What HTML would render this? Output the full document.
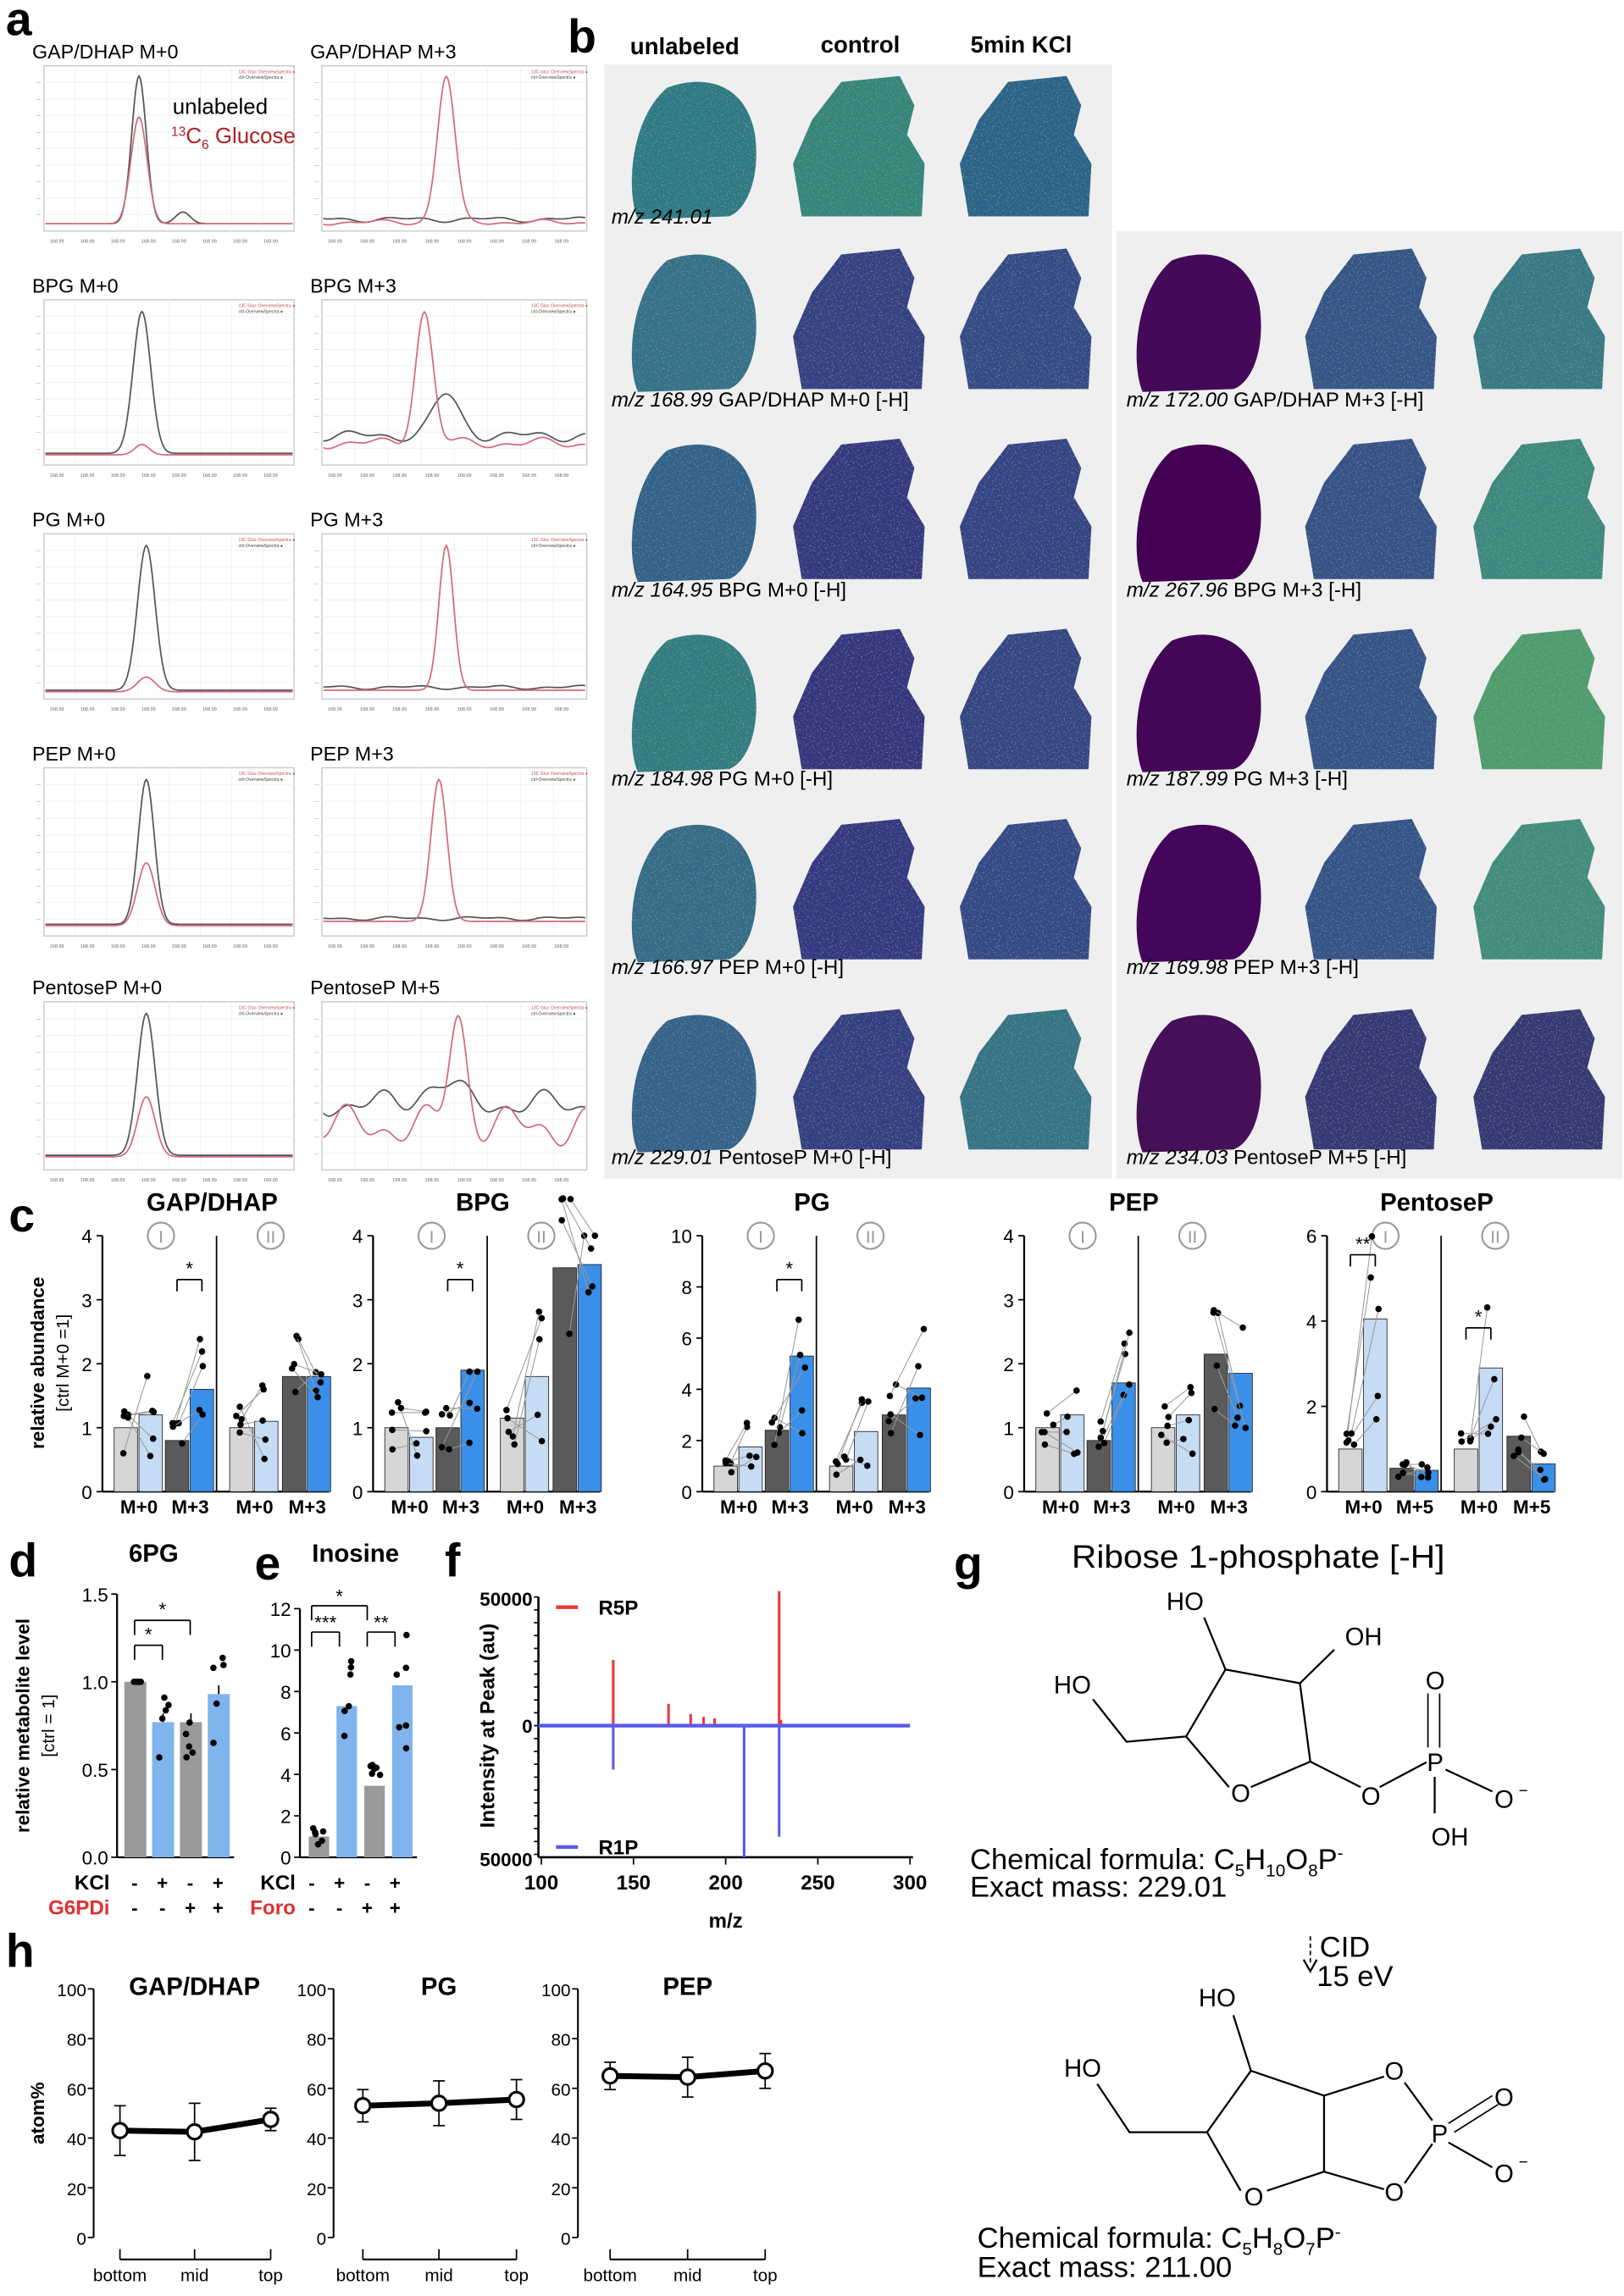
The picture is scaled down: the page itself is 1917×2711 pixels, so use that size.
<!DOCTYPE html>
<html><head><meta charset="utf-8"><style>
html,body{margin:0;padding:0;background:#fff}
svg{display:block}
text{font-family:"Liberation Sans",sans-serif}
</style></head><body>
<svg id="s" xmlns="http://www.w3.org/2000/svg" width="1917" height="2711" viewBox="0 0 1110 1570" preserveAspectRatio="none">
<rect width="1110" height="1570" fill="#fff"/>
</svg>
<script>
const NS="http://www.w3.org/2000/svg",S=document.getElementById('s');
function E(t,a,txt){const e=document.createElementNS(NS,t);for(const k in a)e.setAttribute(k,a[k]);if(txt!=null)e.textContent=txt;S.appendChild(e);return e;}
function T(x,y,s,sz,o){o=o||{};const a={x:x,y:y,'font-size':sz,fill:o.fill||'#000'};if(o.b)a['font-weight']='bold';if(o.a)a['text-anchor']=o.a;if(o.i)a['font-style']='italic';if(o.tl){a.textLength=o.tl;a.lengthAdjust='spacingAndGlyphs';}if(o.tr)a.transform=o.tr;return E('text',a,s);}
function L(x1,y1,x2,y2,c,w,extra){const a={x1:x1,y1:y1,x2:x2,y2:y2,stroke:c||'#000','stroke-width':w||1};if(extra)Object.assign(a,extra);return E('line',a);}
let seed=7;function rnd(){seed=(seed*16807)%2147483647;return seed/2147483647;}

[['a',4,24],['b',388,36],['c',6,842],['d',6,1078],['e',174,1080],['f',304,1078],['g',652,1080],['h',4,1345]].forEach(p=>T(p[1],p[2],p[0],32,{b:1}));

// ---- panel a spectra
const RED='#d46a78';
const rows=[[45,158],[205,318],[365,478],[525,640],[685,800]];
const titles=[['GAP/DHAP M+0','GAP/DHAP M+3'],['BPG M+0','BPG M+3'],['PG M+0','PG M+3'],['PEP M+0','PEP M+3'],['PentoseP M+0','PentoseP M+5']];
const specs=[
 [[{c:'#555',b:153,p:[[95,52,5],[125,145,5]]},{c:RED,b:153,p:[[95,80,5.5]]}],[{c:'#555',b:150,w:2,p:[]},{c:RED,b:152,w:2,p:[[305,52,6]]}]],
 [[{c:'#555',b:310,p:[[97,213,6]]},{c:RED,b:311,p:[[97,304,5]]}],[{c:'#555',b:298,w:4,p:[[305,270,9]]},{c:RED,b:303,w:4,p:[[290,213,6]]}]],
 [[{c:'#555',b:472,p:[[100,373,6]]},{c:RED,b:473,p:[[100,463,6]]}],[{c:'#555',b:470,w:1.5,p:[]},{c:RED,b:472,p:[[305,373,5]]}]],
 [[{c:'#555',b:632,p:[[100,533,5.5]]},{c:RED,b:633,p:[[100,590,6]]}],[{c:'#555',b:628,w:1.5,p:[]},{c:RED,b:630,p:[[300,533,5.5]]}]],
 [[{c:'#555',b:790,p:[[100,693,6]]},{c:RED,b:791,p:[[100,750,6]]}],[{c:'#555',b:755,w:10,p:[[300,740,12]]},{c:RED,b:770,w:15,p:[[313,693,6]]}]]
];
rows.forEach((r,i)=>{
 [[18,203],[208,403]].forEach((xx,j)=>{
  const [x0,x1]=xx,[y0,y1]=r;
  T(x0+4,y0-5,titles[i][j],13.5,{});
  E('rect',{x:x0+12,y:y0,width:x1-x0-14,height:y1-y0,fill:'#fff',stroke:'#c8c8c8','stroke-width':0.8});
  for(let g=1;g<8;g++){const gx=x0+12+g*(x1-x0-14)/8;L(gx,y0,gx,y1,'#eef2f8',0.6);}
  for(let g=1;g<10;g++){const gy=y0+g*(y1-y0)/10;L(x0+12,gy,x1-2,gy,'#eef2f8',0.6);T(x0+10,gy+1,'—',3,{a:'end',fill:'#888'});}
  for(let g=0;g<8;g++)T(x0+16+g*(x1-x0-18)/8,y1+8,'168.99',3.2,{fill:'#666'});
  T(x1-40,y0+5,'13C Gluc OverviewSpectra ●',3,{fill:'#c0505a'});
  T(x1-40,y0+9,'ctrl-OverviewSpectra ●',3,{fill:'#444'});
  specs[i][j].forEach(cv=>{
   let d='';for(let x=x0+13;x<=x1-3;x++){let y=cv.b+(cv.w||0)*Math.sin(x/9+cv.b)*0.6+(cv.w||0)*0.4*Math.sin(x/4.3);
    cv.p.forEach(p=>{y-=(cv.b-p[1])*Math.exp(-((x-p[0])**2)/(2*p[2]*p[2]));});
    d+=(d?'L':'M')+x+','+y.toFixed(1);}
   E('path',{d:d,fill:'none',stroke:cv.c,'stroke-width':1});
  });
 });
});
T(118,78,'unlabeled',15,{});
(function(){const t=E('text',{x:117,y:98,'font-size':15,fill:'#b02020'});
 t.innerHTML='<tspan font-size="9" dy="-5">13</tspan><tspan dy="5">C</tspan><tspan font-size="9" dy="4">6</tspan><tspan dy="-4"> Glucose</tspan>';})();

// ---- panel b
E('rect',{x:413,y:44,width:347,height:762,fill:'#efefef'});
E('rect',{x:763,y:158,width:346,height:648,fill:'#efefef'});
T(468,37,'unlabeled',16,{b:1,a:'middle'});T(588,36,'control',16,{b:1,a:'middle'});T(698,36,'5min KCl',16,{b:1,a:'middle'});
E('defs',{}).innerHTML='<filter id="nz" x="0" y="0" width="1" height="1"><feTurbulence type="fractalNoise" baseFrequency="0.9" numOctaves="1" seed="3" result="n"/><feColorMatrix in="n" type="matrix" values="0 0 0 0 0.55  0 0 0 0 0.8  0 0 0 0 0.35  0 0 0 0.9 -0.5" result="m"/><feComposite in="m" in2="SourceGraphic" operator="in" result="c"/><feMerge><feMergeNode in="SourceGraphic"/><feMergeNode in="c"/></feMerge></filter>';
const shapeU='M28,8 C55,-2 82,6 88,40 C92,70 82,92 70,96 L8,98 C0,80 2,30 28,8 Z';
const shapeC='M35,4 L75,0 L85,20 L80,40 L92,60 L90,96 L8,96 L2,60 L15,30 Z';
const rowY=[52,170,300,430,560,690],labY=[153,278,408,537,666,796];
const rowCols=[
 ['#2e7a86','#35857c','#2b6488'],
 ['#36718a','#353f83','#354c87','#45095a','#345488','#377986'],
 ['#33628a','#343880','#344285','#440154','#355187','#3c8880'],
 ['#337b82','#343580','#344585','#440656','#345388','#4f9c70'],
 ['#356b88','#343982','#354a88','#44065a','#345388','#428c7e'],
 ['#36628a','#343c82','#367387','#461058','#353876','#353975']];
const labs=[['m/z 241.01',''],['m/z 168.99',' GAP/DHAP M+0 [-H]','m/z 172.00',' GAP/DHAP M+3 [-H]'],['m/z 164.95',' BPG M+0 [-H]','m/z 267.96',' BPG M+3 [-H]'],['m/z 184.98',' PG M+0 [-H]','m/z 187.99',' PG M+3 [-H]'],['m/z 166.97',' PEP M+0 [-H]','m/z 169.98',' PEP M+3 [-H]'],['m/z 229.01',' PentoseP M+0 [-H]','m/z 234.03',' PentoseP M+5 [-H]']];
rowY.forEach((y,r)=>{
 const xs=r==0?[428,540,654]:[428,540,654,773,890,1005];
 xs.forEach((x,c)=>{
  E('path',{d:(c%3==0?shapeU:shapeC),fill:rowCols[r][c],transform:'translate('+x+','+y+')',filter:(c==3)?'':'url(#nz)'});
 });
 const t=E('text',{x:418,y:labY[r],'font-size':14});t.innerHTML='<tspan font-style="italic">'+labs[r][0]+'</tspan>'+labs[r][1];
 if(r>0){const t2=E('text',{x:770,y:labY[r],'font-size':14});t2.innerHTML='<tspan font-style="italic">'+labs[r][2]+'</tspan>'+labs[r][3];}
});

// ---- panel c
const barCols=['#d6d6d6','#c6dcf5','#5a5a5a','#3a8fe8'];
const offs=[8,25,43,60,87,104,123,140];
function barchart(ax,ymax,ticks,title,vals,stars){
 const y0=1020,yt=845,sc=175/ymax;
 T(ax+75,828,title,17,{b:1,a:'middle'});
 L(ax,yt,ax,y0,'#000',1.3);L(ax,y0,ax+155,y0,'#000',1.3);
 ticks.forEach(t=>{const y=y0-t*sc;L(ax-4,y,ax,y,'#000',1);T(ax-7,y+5,String(t),13,{a:'end'});});
 L(ax+78,yt,ax+78,y0,'#000',1);
 E('circle',{cx:ax+40,cy:yt,r:9,fill:'none',stroke:'#999','stroke-width':1.2});T(ax+40,yt+5,'I',12,{a:'middle',fill:'#999'});
 E('circle',{cx:ax+115,cy:yt,r:9,fill:'none',stroke:'#999','stroke-width':1.2});T(ax+115,yt+5,'II',12,{a:'middle',fill:'#999'});
 vals.forEach((v,i)=>{E('rect',{x:ax+offs[i],y:y0-v*sc,width:16,height:v*sc,fill:barCols[i%4],stroke:'#222','stroke-width':0.5});});
 for(let g=0;g<4;g++){const a=vals[2*g],b=vals[2*g+1];
  for(let k=0;k<5;k++){const va=Math.max(0.05,a*(0.6+rnd()*0.8)),vb=Math.max(0.05,b*(0.4+rnd()*1.2));
   const xa=ax+offs[2*g]+8+(rnd()-0.5)*8,xb=ax+offs[2*g+1]+8+(rnd()-0.5)*8;
   L(xa,y0-va*sc,xb,y0-Math.min(vb,ymax)*sc,'#999',0.6);
   E('circle',{cx:xa,cy:y0-va*sc,r:2.2,fill:'#000'});E('circle',{cx:xb,cy:y0-Math.min(vb,ymax)*sc,r:2.2,fill:'#000'});}}
 ['M+0','M+3','M+0','M+3'].forEach((m,i)=>T(ax+[25,60,104,140][i],1035,stars&&stars.lab?stars.lab[i]:m,13,{a:'middle',b:1}));
 (stars&&stars.s||[]).forEach(s=>{const x1=ax+offs[s[0]]+8,x2=ax+offs[s[1]]+8,y=s[2];L(x1,y,x2,y,'#000',1);L(x1,y,x1,y+8,'#000',1);L(x2,y,x2,y+8,'#000',1);T((x1+x2)/2,y-3,s[3],13,{a:'middle'});});
}
barchart(70,4,[0,1,2,3,4],'GAP/DHAP',[1,1.2,0.8,1.6,1,1.1,1.8,1.8],{s:[[2,3,875,'*']]});
barchart(255,4,[0,1,2,3,4],'BPG',[1,0.85,1,1.9,1.15,1.8,3.5,3.55],{s:[[2,3,875,'*']]});
barchart(480,10,[0,2,4,6,8,10],'PG',[1,1.75,2.4,5.3,1,2.35,3,4.05],{s:[[2,3,875,'*']]});
barchart(700,4,[0,1,2,3,4],'PEP',[1,1.2,0.8,1.7,1,1.2,2.15,1.85],{});
barchart(907,6,[0,2,4,6],'PentoseP',[1,4.05,0.55,0.5,1,2.9,1.3,0.65],{s:[[0,1,858,'**'],[4,5,908,'*']],lab:['M+0','M+5','M+0','M+5']});
T(30,932,'relative abundance',13,{b:1,a:'middle',tr:'rotate(-90 30 932)'});
T(47,932,'[ctrl M+0  =1]',12,{a:'middle',tr:'rotate(-90 47 932)'});

// ---- panel d
T(105,1068,'6PG',17,{b:1,a:'middle'});
(function(){const ax=80,y0=1270,sc=180/1.5;L(ax,1090,ax,y0,'#000',1.3);L(ax,y0,ax+80,y0,'#000',1.3);
 [0,0.5,1,1.5].forEach(t=>{const y=y0-t*sc;L(ax-4,y,ax,y);T(ax-6,y+5,t.toFixed(1),13,{a:'end'});});
 [[1,'#9a9a9a'],[0.77,'#80b4ec'],[0.77,'#9a9a9a'],[0.93,'#80b4ec']].forEach((b,i)=>{const x=ax+5+i*19;E('rect',{x:x,y:y0-b[0]*sc,width:15,height:b[0]*sc,fill:b[1]});
  L(x+7.5,y0-b[0]*sc,x+7.5,y0-(b[0]+0.05*(i?1:0))*sc);for(let k=0;k<5;k++)E('circle',{cx:x+7.5+(rnd()-0.5)*8,cy:y0-(i?b[0]*(0.7+rnd()*0.6):1)*sc,r:2.2,fill:'#000'});});
 const br=(x1,x2,y,s)=>{L(x1,y,x2,y);L(x1,y,x1,y+10);L(x2,y,x2,y+10);T((x1+x2)/2,y-3,s,13,{a:'middle'});};
 br(92,111,1125,'*');br(92,130,1108,'*');
 T(75,1292,'KCl',14,{b:1,a:'end'});T(75,1309,'G6PDi',14,{b:1,a:'end',fill:'#e03030'});
 ['-','+','-','+'].forEach((s,i)=>T(92+i*19,1292,s,13,{a:'middle',b:1}));['-','-','+','+'].forEach((s,i)=>T(92+i*19,1309,s,13,{a:'middle',b:1}));
 T(20,1180,'relative metabolite level',13,{b:1,a:'middle',tr:'rotate(-90 20 1180)'});
 T(37,1180,'[ctrl = 1]',12,{a:'middle',tr:'rotate(-90 37 1180)'});})();

// ---- panel e
T(243,1068,'Inosine',17,{b:1,a:'middle'});
(function(){const ax=205,y0=1270,sc=170/12;L(ax,1100,ax,y0,'#000',1.3);L(ax,y0,ax+80,y0,'#000',1.3);
 [0,2,4,6,8,10,12].forEach(t=>{const y=y0-t*sc;L(ax-4,y,ax,y);T(ax-6,y+5,String(t),13,{a:'end'});});
 [[1,'#9a9a9a'],[7.3,'#80b4ec'],[3.45,'#9a9a9a'],[8.3,'#80b4ec']].forEach((b,i)=>{const x=ax+6+i*19;E('rect',{x:x,y:y0-b[0]*sc,width:14,height:b[0]*sc,fill:b[1]});
  for(let k=0;k<6;k++)E('circle',{cx:x+7+(rnd()-0.5)*8,cy:y0-b[0]*(0.6+rnd()*0.8)*sc,r:2.2,fill:'#000'});});
 const br=(x1,x2,y,s)=>{L(x1,y,x2,y);L(x1,y,x1,y+10);L(x2,y,x2,y+10);T((x1+x2)/2,y-2,s,13,{a:'middle'});};
 br(213,251,1098,'*');br(213,232,1116,'***');br(251,270,1116,'**');
 T(202,1292,'KCl',14,{b:1,a:'end'});T(202,1309,'Foro',14,{b:1,a:'end',fill:'#e03030'});
 ['-','+','-','+'].forEach((s,i)=>T(213+i*19,1292,s,13,{a:'middle',b:1}));['-','-','+','+'].forEach((s,i)=>T(213+i*19,1309,s,13,{a:'middle',b:1}));})();

// ---- panel f
(function(){const ax=368,yt=1092,yb=1270,yz=1180,X=m=>370+(m-100)*1.26;
 L(ax,yt,ax,yb,'#000',1.5);L(ax,yb,624,yb,'#000',1.5);
 for(let y=yt;y<=yb;y+=8.8)L(ax-3,y,ax,y);
 [100,150,200,250,300].forEach(m=>{L(X(m),yb,X(m),yb+5);T(X(m),yb+22,String(m),14,{b:1,a:'middle'});});
 T(364,yt+6,'50000',13,{b:1,a:'end'});T(364,yz+5,'0',13,{b:1,a:'end'});T(364,yb+6,'50000',13,{b:1,a:'end'});
 T(496,1318,'m/z',14,{b:1,a:'middle'});
 T(338,1180,'Intensity at Peak (au)',14,{b:1,a:'middle',tr:'rotate(-90 338 1180)'});
 L(380,1099,395,1099,'#e83a3a',2.5);T(409,1104,'R5P',14,{b:1});
 L(380,1263,395,1263,'#5a5ae8',2.5);T(409,1268,'R1P',14,{b:1});
 [[139,1135],[169,1165],[181,1172],[188,1174],[194,1175],[229,1088],[230,1176]].forEach(p=>L(X(p[0]),yz,X(p[0]),p[1],'#e83a3a',1.8));
 L(ax,yz,622,yz,'#5a5ae8',2.5);
 [[139,1210],[210,1270],[229,1256]].forEach(p=>L(X(p[0]),yz,X(p[0]),p[1],'#5a5ae8',1.8));})();

// ---- panel g
T(860,1072,'Ribose 1-phosphate [-H]',22,{a:'middle',tl:255});
const P=(pts)=>E('polyline',{points:pts,fill:'none',stroke:'#000','stroke-width':1.3});
P('837.6,1141.6 888.5,1151 895.6,1204.6 855,1222');P('840,1222 810.7,1187.4 837.6,1141.6');
P('810.7,1187.4 770,1191 747,1162');P('837.6,1141.6 823,1106');P('888.5,1151 912,1128');
P('895.6,1204.6 930,1222');P('943,1222 975,1205');
L(976,1195,976,1158);L(984,1195,984,1158);P('988,1210 1020,1225');P('980.6,1215 980.6,1240');
T(733,1158,'HO',17,{a:'middle'});T(810,1101,'HO',17,{a:'middle'});T(932,1125,'OH',17,{a:'middle'});
T(848,1232,'O',17,{a:'middle'});T(937,1234,'O',17,{a:'middle'});T(981,1211,'P',17,{a:'middle'});T(981,1155,'O',17,{a:'middle'});
T(1028,1236,'O',17,{a:'middle'});T(1038,1228,'−',11,{});T(991,1262,'OH',17,{a:'middle'});
(function(){const t=E('text',{x:663,y:1278,'font-size':20});t.innerHTML='Chemical formula: C<tspan font-size="12" dy="5">5</tspan><tspan dy="-5">H</tspan><tspan font-size="12" dy="5">10</tspan><tspan dy="-5">O</tspan><tspan font-size="12" dy="5">8</tspan><tspan dy="-5">P</tspan><tspan font-size="12" dy="-7">-</tspan>';
 T(663,1297,'Exact mass: 229.01',20,{});
 L(895.6,1324,895.6,1344,'#000',1,{'stroke-dasharray':'3,2'});P('891,1340 895.6,1348 900,1340');
 T(902,1338,'CID',20,{});T(900,1358,'15 eV',20,{});
 P('855,1416 905,1433 905,1485 866,1498');P('848,1498 825,1458 855,1416');
 P('825,1458 772,1458 750,1425');P('855,1416 843,1378');
 P('905,1433 946,1420');P('905,1485 946,1497');P('960,1424 979,1450');P('960,1493 979,1466');
 L(990,1452,1020,1433);L(994,1458,1024,1439);P('990,1465 1020,1482');
 T(832,1372,'HO',17,{a:'middle'});T(740,1420,'HO',17,{a:'middle'});
 T(857,1508,'O',17,{a:'middle'});
 T(953,1422,'O',17,{a:'middle'});T(953,1505,'O',17,{a:'middle'});T(984,1465,'P',17,{a:'middle'});
 T(1028,1440,'O',17,{a:'middle'});T(1028,1492,'O',17,{a:'middle'});T(1038,1482,'−',11,{});
 const t2=E('text',{x:668,y:1537,'font-size':20});t2.innerHTML='Chemical formula: C<tspan font-size="12" dy="5">5</tspan><tspan dy="-5">H</tspan><tspan font-size="12" dy="5">8</tspan><tspan dy="-5">O</tspan><tspan font-size="12" dy="5">7</tspan><tspan dy="-5">P</tspan><tspan font-size="12" dy="-7">-</tspan>';
 T(668,1557,'Exact mass: 211.00',20,{});})();

// ---- panel h
function line(ax,title,vals,errs,xs){const y0=1530,sc=1.7;
 L(ax,1360,ax,y0,'#000',1.2);[0,20,40,60,80,100].forEach(t=>{const y=y0-t*sc;L(ax-4,y,ax,y);T(ax-5,y+5,String(t),12,{a:'end'});});
 T(xs[1],1364,title,17,{b:1,a:'middle'});
 L(xs[0],1545,xs[2],1545,'#000',1.2);xs.forEach((x,i)=>{L(x,1538,x,1545);T(x,1560,['bottom','mid','top'][i],12,{a:'middle'});});
 E('polyline',{points:xs.map((x,i)=>x+','+(y0-vals[i]*sc)).join(' '),fill:'none',stroke:'#000','stroke-width':4});
 xs.forEach((x,i)=>{const y=y0-vals[i]*sc,e=errs[i]*sc;L(x,y-e,x,y+e);L(x-4,y-e,x+4,y-e);L(x-4,y+e,x+4,y+e);E('circle',{cx:x,cy:y,r:5,fill:'#fff',stroke:'#000','stroke-width':1.8});});}
line(64,'GAP/DHAP',[43,42.5,47.5],[10,11.5,4.5],[82,133,185]);
line(228,'PG',[53,54,55.5],[6.5,9,8],[248,300,353]);
line(395,'PEP',[65,64.5,67],[5.5,8,7],[417,470,523]);
T(30,1445,'atom%',13,{b:1,a:'middle',tr:'rotate(-90 30 1445)'});
</script>
</body></html>
